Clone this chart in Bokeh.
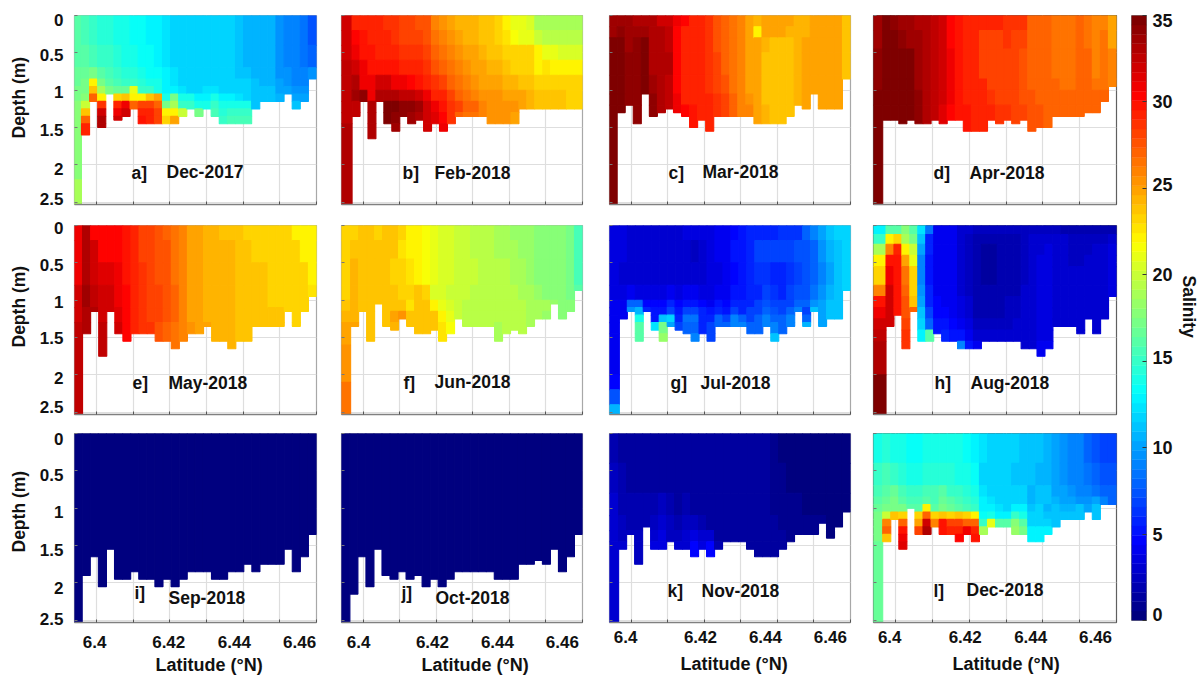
import numpy as np
from bokeh.embed import file_html
from bokeh.resources import INLINE
from bokeh.plotting import figure
from bokeh.layouts import row, column
from bokeh.models import (ColumnDataSource, FixedTicker, Label, LinearColorMapper,
                          Range1d, Title)
from bokeh.transform import transform

# ---------- data ----------
months = ["Dec-2017", "Feb-2018", "Mar-2018", "Apr-2018", "May-2018", "Jun-2018",
          "Jul-2018", "Aug-2018", "Sep-2018", "Oct-2018", "Nov-2018", "Dec-2018"]
letters = ["a]", "b]", "c]", "d]", "e]", "f]", "g]", "h]", "i]", "j]", "k]", "l]"]
lat_ticks = [6.40, 6.41, 6.42, 6.43, 6.44, 6.45, 6.46]
depth_ticks = [0, 0.5, 1, 1.5, 2, 2.5]
cbar_ticks = [0, 5, 10, 15, 20, 25, 30, 35]

first_edge = [6.3959, 6.3969, 6.3961, 6.3965, 6.3962, 6.3965, 6.3967, 6.3974, 6.3961, 6.3963, 6.3965, 6.3965]

bottom_a = [2.55,1.6,1.15,1.5,1.05,1.4,1.35,1.25,1.45,1.45,1.45,1.45,1.45,1.35,1.25,1.35,1.25,1.35,1.45,1.45,1.45,1.45,1.25,1.15,1.15,1.15,1.05,1.25,1.15,.85]
bottom_b = [2.55,1.35,1.15,1.65,1.15,1.45,1.55,1.35,1.45,1.4,1.55,1.45,1.55,1.45,1.35,1.35,1.35,1.35,1.45,1.45,1.45,1.45,1.25,1.25,1.25,1.25,1.25,1.25,1.25,1.25]
bottom_c = [2.55,1.3,1.2,1.45,1.05,1.35,1.3,1.25,1.3,1.35,1.5,1.4,1.55,1.35,1.35,1.35,1.35,1.35,1.45,1.45,1.45,1.45,1.35,1.2,1.25,1.05,1.25,1.25,1.25,.85]
bottom_d = [2.55,1.4,1.4,1.45,1.4,1.45,1.45,1.4,1.45,1.4,1.4,1.55,1.55,1.55,1.4,1.45,1.4,1.45,1.4,1.55,1.5,1.5,1.35,1.35,1.35,1.35,1.3,1.3,1.15,.95]
bottom_e = [2.55,1.45,1.15,1.75,1.15,1.45,1.55,1.45,1.45,1.45,1.55,1.55,1.65,1.55,1.45,1.45,1.35,1.55,1.55,1.65,1.55,1.55,1.35,1.35,1.35,1.35,1.15,1.35,1.15,.95]
bottom_f = [2.55,1.35,1.15,1.55,1.05,1.35,1.4,1.25,1.35,1.45,1.45,1.4,1.55,1.45,1.25,1.35,1.35,1.35,1.35,1.55,1.45,1.4,1.45,1.35,1.25,1.25,1.05,1.25,1.15,.87]
bottom_g = [2.55,1.25,1.15,1.55,1.15,1.4,1.55,1.35,1.4,1.45,1.55,1.45,1.55,1.35,1.35,1.35,1.35,1.45,1.45,1.35,1.55,1.45,1.35,1.15,1.35,1.15,1.35,1.25,1.25,.87]
bottom_h = [2.55,1.35,1.2,1.65,1.15,1.55,1.55,1.45,1.55,1.55,1.65,1.65,1.65,1.55,1.55,1.55,1.55,1.55,1.65,1.65,1.75,1.65,1.35,1.35,1.35,1.45,1.25,1.45,1.25,.95]
bottom_i = [2.55,1.9,1.65,2.05,1.55,1.95,1.95,1.85,1.95,1.95,2.05,1.95,2.05,1.95,1.85,1.85,1.85,1.95,1.95,1.85,1.85,1.75,1.85,1.75,1.75,1.75,1.55,1.85,1.65,1.35]
bottom_j = [2.55,2.15,1.65,2.05,1.55,1.9,1.95,1.85,1.95,1.9,2.05,1.95,2.05,1.95,1.85,1.85,1.85,1.85,1.85,1.95,1.95,1.95,1.75,1.75,1.7,1.75,1.55,1.85,1.65,1.35]
bottom_k = [2.55,1.55,1.35,1.75,1.25,1.55,1.55,1.45,1.55,1.55,1.65,1.55,1.65,1.55,1.45,1.45,1.45,1.55,1.65,1.65,1.65,1.55,1.45,1.35,1.35,1.35,1.2,1.4,1.25,1.05]
bottom_l = [2.55,1.45,1.15,1.55,1.0,1.35,1.35,1.25,1.35,1.35,1.45,1.35,1.45,1.35,1.25,1.25,1.25,1.35,1.35,1.45,1.45,1.35,1.25,1.15,1.15,1.15,1.05,1.15,.95,.95]

edges_a = [0,.4,.7,.85,.95,1.05,1.15,1.25,1.35,1.45,2.2,3]
sal_a = [
 [16,15.5,15,14.5,14.5,14,14,13.5,13.5,13,13,12.5,12,12,12,12,11.5,11.5,11.5,11.5,11,10.5,10.5,10.5,10.5,9.5,9,9,8.5,7.5],
 [16,16,15.5,15,15,14.5,14,14,13.5,13.5,13,12.5,12,12,12,12,11.5,11.5,11.5,11.5,11,10.5,10.5,10.5,10.5,9.5,9,9,8.5,8],
 [16.5,16.5,17,16,15.5,15,14.5,14.5,14,13.5,13.5,13,12.5,12,12,12,11.5,11.5,12,12,11,11,10.5,10.5,10.5,9.5,9.5,9,9,9.5],
 [16.5,17,22,17,16,15.5,15,15,14.5,14,14,13,12.5,12,12,12,12,12,12,12,11.5,11.5,11,10.5,10.5,10,9.5,9,9,9],
 [17,17,24,19,17,16.5,16.5,21,15,15,14,13,13,12.5,12,12,12.5,12.5,12,12,12,11.5,11,11,11,10,10,9.5,9.5,9],
 [17,17.5,27,22,17,23,24,22,22,24,25,14,17,14,14,13,13,14,13,13,12.5,12,11,11,11,10.5,10.5,10,10,9],
 [18,20,28,28.5,17,29,31,27,28,28,27,17,19,15,15,14,14,15,14,14,14,14,11,11,11,11,11,11,11,11],
 [18,24,28,32,17,31,32,29,29,29,28,22,22,20,15,17,14,15.5,14.5,15,15,15],
 [18,27,28,33,17,32,32,29,30,29,28,23,25,20,15,17,14,15.5,15,15.5,15.5,15.5],
 [17.5,29,28,33],
 [19],
]
edges_b = [0,.2,.4,.6,.8,1.0,1.15,1.3,1.45,3]
sal_b = [
 [32,29.5,29.5,29,29,28.5,28.5,28,28,27.5,27.5,26,25.5,25,24.5,24.5,24.5,24,24,23.5,22,21,21,20.5,19,19,19,19,19,19],
 [32,30.5,30,29.5,29.5,29,28.5,28,28,28,27.5,26.5,26,25.5,25,24.5,24.5,24,24,23.5,22.5,21.5,21,21,20,19.5,19.5,19.5,19.5,19.5],
 [32,31,30,30,29.5,29.5,29,28.5,28.5,28.5,28,27,26.5,26,25.5,25,25,24.5,24,24,23.5,23,23,23,22,21,21,20.5,20.5,20.5],
 [32.5,32,31,30,30,30,30,29.5,29,29,28.5,27.5,27,26.5,26,25.5,25,25,24.5,24.5,24,23.5,23,23,22,22.5,22,22,22,22],
 [32.5,33,31,31,32,32,31,31,30.5,30,29,28.5,28,27,26.5,26,25.5,25,25,25,24.5,24.5,24,24,23.5,23.5,23.5,23.5,23.5,23.5],
 [32.5,33.5,34,31,33,33,33,32.5,32.5,32,31,29.5,29,28,27,26.5,26,25.5,25.5,25.5,25,25,25,24.5,24,24,24,24,23.5,23.5],
 [32.5,32.5,33,33,33,34.5,34.5,34,34,33.5,32,31,30,28.5,28,27,27,26,25.5,25.5,25.5,25.5,25,24.5,24,24,24,24,23.5,23.5],
 [32.5,32.5,33,33,33,35,34,34,33.5,33,32,31.5,30.5,28.5,27,26.5,26.5,26,25.5,25.5,25.5,25],
 [33,33,33,33,33,33,33.5,33,33,33,32,31,31],
]
edges_c = [0,.15,.3,.5,.8,1.05,1.2,3]
sal_c = [
 [33.5,33.5,33.5,33,33,33,32,32,31,30.5,29.5,29,28.5,27.5,27,26.5,26,25,24.5,25,25,25,25,24.5,24.5,25,25,25,25,24],
 [33.5,34,33.5,33.5,33.5,33,33,32.5,30.5,29.5,29.5,29,28.5,27.5,27,26.5,26,25,22,25,25,25,24.5,24.5,24.5,25,25,25,25,24],
 [34.5,34.5,33.5,34,34.5,33,33,32.5,30.5,29.5,29.5,29,28.5,27.5,27,26.5,26,25,25,24.5,24,24,24,24.5,25,25,25,25,25,24],
 [34.5,34.5,34,34,34.5,33,33,33,30.5,29.5,29,29,28.5,28,27,26.5,26,25,25,24,24,24,24,24.5,25,25,25,25,25,24],
 [34.5,34.5,34,34,34.5,33.5,33,32.5,30.5,29.5,29,29,28.5,28,27.5,26.5,26,25,25,24,24,24,24,24.5,25,25,25,25,25,24],
 [34.5,34.5,34,34,34,34,33,32.5,31,29.5,29,29,29,28.5,28,27,26,25.5,25,24,24,24,24,24.5,25,25,25,25,25,24],
 [35,34.5,34,34,34,34,33,32.5,31,30.5,30,29.5,29,28.5,28,27,26,26,25,24.5,24,24,24,24.5,25,25,25,25,25,24],
]
edges_d = [0,.2,.45,.85,1.0,1.2,3]
sal_d = [
 [33.5,34.5,34,33.5,33.5,33,33,32.5,32,30.5,30,29.5,29.5,29,29,29,28.5,28.5,28.5,27,27,27,26.5,26.5,26.5,27,26.5,26,26,25],
 [33.5,34.5,34.5,34,33.5,33.5,33,32.5,32,30.5,30,29.5,29,28,28,28,28.5,28,28,27,27,27,26.5,26.5,26.5,27,26.5,26,26.5,25],
 [34,34.5,35,35,34.5,33.5,33,32.5,32,31,30,29.5,29,28,28,28,28,28,27.5,27,27,27,26.5,26.5,26.5,27,27,26,26.5,26],
 [34,34.5,35,35,34.5,33.5,33,32.5,32,31,30,29.5,29,29,28,28,28,28,27.5,27,27,27,27,26.5,26.5,27,27,26.5,26.5,26],
 [34.5,34.5,35,35,34.5,34,33,32.5,32,31,30,29.5,29,29,28.5,28,28,28,27.5,27.5,27,27,27,27,27,27,27,27,27],
 [34.5,34.5,34.5,34.5,34.5,34,33,32.5,31.5,30.5,30,30,29.5,29.5,29,28.5,28.5,28,28,27.5,27.5,27,27,27,27,27,27,27,27],
]
edges_e = [0,.2,.5,.8,1.1,1.3,3]
sal_e = [
 [31,33,30.5,30.5,30.5,30.5,30,29,28,28,27.5,27,26.5,26,25,25,24.5,24.5,24,24,24,23.5,23.5,23.5,23.5,23,23,22,22,22],
 [31,33,32,30.5,30.5,30.5,30,29,28,28,27.5,27.5,26.5,26,25,25,24.5,24.5,24.5,24.5,24,24,23.5,23.5,23.5,23,23,23,22,22],
 [31,33,32,31.5,31.5,31,30,29,28.5,28,27.5,27.5,26.5,26,25,25,24.5,24.5,24.5,24.5,24,24,24,24,23.5,23.5,23.5,23,23,22],
 [32,33.5,32.5,32,32,31,30.5,29,28.5,28,28,27.5,27,26,25,25,24.5,24.5,24.5,24.5,24,24,24,24,23.5,23.5,23.5,23,23,22.5],
 [32,33,33,32,32,31.5,30.5,29,28.5,28,28,27.5,27,26,25,25,24.5,24.5,24.5,24.5,24,24,24,24,24,24,23.5,23,23,23],
 [32.5,33,33,32.5,32,32,30.5,29,28.5,28.5,27.5,27,26.5,26,25.5,25,25,24.5,24.5,24.5,24,24,24,24,24,24,24,23.5,23,23],
]
edges_f = [0,.2,.45,.8,1.0,1.15,1.3,1.6,2.1,3]
sal_f = [
 [23,23.5,24,24,23.5,24,24,23,22,22,21.5,21,20.5,20.5,20,20,19.5,19.5,19.5,19,19,18.5,18.5,18.5,18,18,17.5,17.5,17,15.5],
 [23,24,24,24,24,24,24,22.5,22,22,21.5,21,20.5,20.5,20,20,19.5,19.5,19.5,19,19,19,18.5,18.5,18,18,18,17.5,17,15.5],
 [23,24.5,24,24,24,24,23.5,23,22.5,22,21.5,21,20.5,20.5,20,20,20,19.5,19.5,19.5,19.5,19,19,18.5,18,18,17.5,17.5,17,15.5],
 [23.5,24.5,24,24,24,24,24,23,23,24,23,20.5,20.5,20,20,20,19.5,19.5,19.5,19.5,19.5,19.5,19,19,18.5,18,18,17.5,17,16],
 [24,24.5,24,24,24,24,24,24,22.5,24,24,22,21,20.5,20,19.5,19.5,19.5,19.5,19.5,19.5,19.5,19.5,19,19,19,18.5,18,18,18],
 [24.5,24.5,24,24,24,24,25,25.5,24,24,24,24,22,21,20,19.5,19.5,19.5,19.5,19.5,19.5,19.5,19.5,19,19,18.5],
 [25,25,24,24,24,24,24.5,25.5,24,24,24,24,22.5,21.5,20,19.5,19.5,19.5,19.5,19,19.5,19.5,19.5,19],
 [25.5],
 [26.5],
]
edges_g = [0,.2,.5,.8,1.0,1.1,1.2,1.3,1.45,2.0,2.2,2.4,3]
sal_g = [
 [3.5,3.5,3,3,3,3,3,3,3,3.5,3.5,3.5,3.5,4,4,4.5,5,5.5,6,6,6,6.5,6.5,6.5,8,9,10,11,11.5,12],
 [3.5,3.5,3,3,3,3,3,3,3,3,2.5,3,3.5,4,4,5,5,5.5,7,7,7,7,7,7.5,7.5,8,9.5,10.5,11,12],
 [3.5,3,3,3,3,3,3,3,3,3,3,3,3.5,3.5,4,4.5,5,5.5,6.5,6.5,6,5.5,6.5,7,7.5,8,9,10,11,12],
 [3.5,3.5,4,3.5,3.5,3.5,3.5,4,3.5,4,4,3.5,3.5,4,4,5,5,6,6,7,6.5,6,7,7.5,7.5,8.5,9.5,10.5,11,11.5],
 [4,4,8,8,4.5,4.5,4.5,5.5,4.5,5,5,4.5,4,5,4.5,5.5,5.5,6,7,7.5,7,7,7,8,8,9.5,10,11,11,11],
 [4,4,9.5,10.5,6,5,5,7,5,7,7,6,5,6,5,7,6,7,7,8,7.5,7,8,9,7,11,10,11,11,11],
 [4,4,12,14,12,5,11,12,6,8.5,8.5,6,6,8,7,9,8,7,8,9,8,8,9,9,8,8,10,11,11,11],
 [4,4,15,16,12,12.5,17,10,7,8,8,6,7,8,8,9,9,8,8,9,9,8,9,9,10.5,10,10,10,10],
 [4,4,4,16,4,8,18.5,7,7,9,9,7,7,8,8,8,8,8,8,8,11],
 [4.5],
 [7.5],
 [10.5],
]
edges_h = [0,.12,.25,.4,.55,.8,.95,1.1,1.25,1.4,1.55,2.0,3]
sal_h = [
 [13,16,16,18,16,12.5,8.5,4,4,4,3,3,2.5,2.5,2.5,2.5,2.5,2.5,2.5,2.5,2.5,2.5,2.5,2,2,2,2,2,2,2],
 [15,22,23,19,17,11,6,4,4,4,3,2.5,2,2,2,2,2,2,2.5,3,3,3,3,3,2.5,2.5,2.5,2.5,2.5,3],
 [19,26,29,22,20,10,5.5,4,4,4,3,2.5,2,1.5,1.5,2,2,2,2.5,3,3,3.5,3,3,2.5,2.5,2.5,3,3,3.5],
 [22,30,30,25,21,9,5,4,4,4,3,2.5,2,1.5,1.5,2,2,2,2.5,3,3.5,3.5,3,3,2.5,2.5,3,3,3,3.5],
 [23.5,31,30,26.5,23,9,5,4,4,4,3,2.5,2,1.5,1.5,2,2,2,2.5,3,3.5,3.5,3,3,3,3,3,3,3,3.5],
 [26,32,30,27,23.5,9.5,5.5,4,4,4,3,2.5,2,2,2,2,2,2,3,3,3.5,3.5,3,3,3,3,3,3,3,3.5],
 [30,32,30,27.5,24,10,6,4.5,4,4,3.5,3,2,2,2,2,2.5,2.5,3,3,3.5,3.5,3,3,3,3,3,3,3,3],
 [31,32,30,27.5,27,11,7,4.5,4.5,4,3.5,3,2,2,2,2,2.5,2.5,3,3,3.5,3.5,3,3,3,3,3,3,3,3],
 [32,32,32,28,27,12,8,5,5,4.5,4,3.5,2.5,2.5,2.5,2.5,2.5,3,3,3,3.5,3.5,3,3,3,3,3,3,3],
 [32.5,32,32,28.5,27,13,16,5,6,5,5,4,3,3,3,3,3,3,3,3,3.5,3.5],
 [33,33,33,28.5,33,33,33,33,33,6,9,5,4,3,3,3,3,3,3,3,4,4],
 [34.5],
]
edges_i = [0,3]
sal_i = [[.3,.3,.3,.3,.3,.3,.3,.3,.3,.3,.3,.3,.3,.3,.3,.3,.3,.3,.3,.3,.3,.3,.3,.3,.3,.3,.3,.3,.3,.3]]
edges_j = [0,3]
sal_j = [[.3,.3,.3,.3,.3,.3,.3,.3,.3,.3,.3,.3,.3,.3,.3,.3,.3,.3,.3,.3,.3,.3,.3,.3,.3,.3,.3,.3,.3,.3]]
edges_k = [0,.4,.8,1.1,1.3,1.45,3]
sal_k = [
 [1.8,1.6,1.6,1.6,1.2,1.2,1.2,1.2,1.2,1.2,1.2,1.2,1.1,1.1,1.1,1.1,1.1,1.1,1.2,1.1,.9,.5,.5,.5,.5,.5,.5,.5,.4,.4],
 [2.5,1.8,1.6,1.6,1.4,1.2,1.2,1.4,1.2,1.2,1.2,1.2,1.2,1.2,1.1,1.1,1.1,1.1,1.2,1.1,1,.9,.5,.5,.5,.5,.5,.5,.4,.4],
 [2.8,2,1.8,1.8,1.8,1.8,2.2,1.8,1.6,2,1.6,1.6,1.4,1.2,1.2,1.2,1.1,1.1,1.2,1.1,1,1,.6,.6,.5,.5,.5,.5,.4,.4],
 [3,2.2,2,2,2,2.5,3,2.2,2,2.5,2.5,2,1.6,1.4,1.2,1.2,1.2,1.2,1.2,1.2,1.1,1,1,.8,.6,.6,.6,.5,.5,.5],
 [3,2.5,2.2,2.2,2,3,3.5,2.5,2.2,3,3.5,2.8,3,1.6,1.4,1.4,1.4,1.2,1.2,1.2,1.2,1.1,1],
 [3,3,2.5,2.5,2,3.5,3.8,2.5,2.8,3,4.5,3.5,4.5,1.8,1.5,1.5,1.5,1.5,1.4,1.4,1.3,1.2],
]
edges_l = [0,.4,.7,.85,.95,1.05,1.15,1.25,1.35,1.45,3]
sal_l = [
 [14,14.5,14,14,13.5,13.5,14,14,14,14,14,13.5,13,12.5,12,12,11.5,11.5,11,11,11,10.5,10,9.5,9,9,8,7.5,7,7],
 [15,15.5,15,14.5,14,14,14.5,14.5,14.5,14.5,14,14,13.5,12,11.5,11.5,11.5,11,11,11,10.5,10.5,10,9.5,9,9,8.5,8,7.5,7.5],
 [15.5,16,16.5,15.5,15,15,15.5,15.5,16,15,15,14.5,14,12.5,12,11.5,11.5,11.5,11.5,10.5,11,11,10,10,9.5,9,9,8.5,8,8],
 [16,16.5,17,16,15.5,15.5,16,15.5,16.5,16,15.5,15,14.5,13,12.5,12,12,12,12,10.5,11,11,10.5,10,10,9.5,9.5,10,9,8],
 [16.5,17,17,17,16,16,22,16,17,16.5,16,15.5,15,13,13,12.5,12,13,13,11,11.5,10.5,11,10.5,10.5,11,10,11,9.5,9],
 [17,20,24,23,17,23,27,23,24,23,24,23,22,13.5,14,13,13,15,14,12,12,11,11,11,11,11],
 [17,26,25,27,17,25,32,26,30,28,28,27,27,15,21,16,16,18,16,12,12,12,11],
 [17,27,25,30,17,28,33,26,30,29,29,31,29,19,20,15,15,18.5,17,13,13,13],
 [17,24,25,31,17,25,25,25,25,25,30.5,25,30,19,20,15,15,18.5,17,13,13,13],
 [16.5,22,25,31.5],
]
bottoms = [bottom_a,bottom_b,bottom_c,bottom_d,bottom_e,bottom_f,bottom_g,bottom_h,bottom_i,bottom_j,bottom_k,bottom_l]
edges_all = [edges_a,edges_b,edges_c,edges_d,edges_e,edges_f,edges_g,edges_h,edges_i,edges_j,edges_k,edges_l]
sal_all = [sal_a,sal_b,sal_c,sal_d,sal_e,sal_f,sal_g,sal_h,sal_i,sal_j,sal_k,sal_l]

# ---------- styling / layout ----------
FONT = "Liberation Sans"
INK = "#111111"
def jet(n=64):
    out = []
    for i in range(n):
        t = 4 * i / (n - 1)
        r = np.clip(min(t - 1.5, 4.5 - t), 0, 1)
        g = np.clip(min(t - 0.5, 3.5 - t), 0, 1)
        b = np.clip(min(t + 0.5, 2.5 - t), 0, 1)
        out.append("#%02x%02x%02x" % (int(r * 255), int(g * 255), int(b * 255)))
    return out
mapper = LinearColorMapper(palette=jet(), low=0, high=35)

LAT0, LAT1 = 6.394, 6.46
DMAX = 2.53
# frame pixel boxes on the page
col_left = [74, 341, 609, 873]
col_w = [242, 241, 241, 243]
col_end = [328, 595, 861, 1121]
col_start = [0, 328, 595, 861]
row_top = [15, 225, 433]
FRAME_H = 189
row_border_top = [15, 16, 14]
row_border_bottom = [5, 5, 50]
outline = ["#a8a8a8", "#a8a8a8", "#a8a8a8", "#606060"]
y_label_pos = [[.06,.53,1.03,1.53,2.05,2.46], [.04,.53,1.03,1.5,2.04,2.43], [.08,.56,1.05,1.56,2.07,2.48]]
x_label_pos = [[6.3995,6.4197,6.4376,6.4554], [6.3987,6.4189,6.4367,6.4545], [6.3984,6.4189,6.4367,6.4545], [6.3984,6.4189,6.4367,6.4543]]
x_labels = ["6.4", "6.42", "6.44", "6.46"]
y_labels = ["0", "0.5", "1", "1.5", "2", "2.5"]
# annotation anchors, page pixels: letter left, date left, letter y, date y
annot = [(131,166,172,171),(402,434,172,172),(668,702,172,171),(933,969,172,172),
         (132,168,382,382),(403,434,382,381),(670,700,382,382),(934,970,382,382),
         (134,168,592,597),(401,435,592,597),(667,701,590,590),(933,966,590,589)]
xtitle_offset = [81, 80, 71, 79]
ytitle_offset = [66, 67, 70]

def panel(k):
    r, c = k // 4, k % 4
    bl = col_left[c] - col_start[c]
    br = col_end[c] - col_left[c] - col_w[c]
    p = figure(frame_width=col_w[c], frame_height=FRAME_H, toolbar_location=None, output_backend="svg",
               x_range=Range1d(LAT0, LAT1), y_range=Range1d(DMAX, 0),
               min_border_left=bl, min_border_right=br,
               min_border_top=row_border_top[r], min_border_bottom=row_border_bottom[r],
               x_axis_location="below", y_axis_location="left",
               background_fill_color="white", border_fill_color="white")
    p.outline_line_color = outline[c]
    p.outline_line_width = 1.2
    lat_e = np.concatenate(([LAT0], np.linspace(first_edge[k], LAT1, 30)))
    xl, xr, yt, yb, sv = [], [], [], [], []
    eds, rows, bot = edges_all[k], sal_all[k], bottoms[k]
    for j in range(30):
        cur = None
        for i, rw in enumerate(rows):
            if j < len(rw):
                cur = rw[j]
            if eds[i] >= bot[j]:
                break
            xl.append(lat_e[j]); xr.append(lat_e[j + 1])
            yt.append(eds[i]); yb.append(min(eds[i + 1], bot[j]))
            sv.append(cur)
    src = ColumnDataSource(dict(l=xl, r=xr, t=yt, b=yb, s=sv))
    p.quad(left="l", right="r", top="t", bottom="b", source=src,
           fill_color=transform("s", mapper), line_color=transform("s", mapper), line_width=1.1)
    # grids
    p.xgrid.ticker = FixedTicker(ticks=lat_ticks)
    p.ygrid.ticker = FixedTicker(ticks=depth_ticks[1:])
    for g in (p.xgrid[0], p.ygrid[0]):
        g.grid_line_color = "#dedede"
        g.grid_line_width = 1.2
    sx = (LAT1 - LAT0) / col_w[c]
    sy = DMAX / FRAME_H
    # x axis
    ax = p.xaxis[0]
    ax.ticker = FixedTicker(ticks=x_label_pos[c] if r == 2 else [], minor_ticks=lat_ticks)
    ax.major_tick_line_color = None
    ax.major_tick_in = 0; ax.major_tick_out = 0
    ax.minor_tick_in = 3; ax.minor_tick_out = 0
    ax.minor_tick_line_color = "#555555"
    ax.axis_line_color = "#808080"; ax.axis_line_width = 1.5
    if r == 2:
        ax.major_label_overrides = dict(zip(x_label_pos[c], x_labels))
        ax.major_label_standoff = 13 if c < 2 else 8
        ax.major_label_text_font = FONT; ax.major_label_text_font_style = "bold"
        ax.major_label_text_font_size = "17px"; ax.major_label_text_color = INK
        p.add_layout(Title(text="Latitude (°N)", align="left", offset=xtitle_offset[c], vertical_align="middle",
                           standoff=7 if c < 2 else 15, text_font=FONT, text_font_style="bold",
                           text_font_size="18px", text_color=INK), "below")
    else:
        ax.major_label_text_font_size = "0px"
    # y axis
    ay = p.yaxis[0]
    ay.ticker = FixedTicker(ticks=y_label_pos[r] if c == 0 else [], minor_ticks=depth_ticks)
    ay.major_tick_line_color = None
    ay.major_tick_in = 0; ay.major_tick_out = 0
    ay.minor_tick_in = 3; ay.minor_tick_out = 0
    ay.minor_tick_line_color = "#777777"
    ay.axis_line_color = None
    if c == 0:
        ay.major_label_overrides = dict(zip(y_label_pos[r], y_labels))
        ay.major_label_standoff = 11
        ay.major_label_text_font = FONT; ay.major_label_text_font_style = "bold"
        ay.major_label_text_font_size = "17px"; ay.major_label_text_color = INK
        p.add_layout(Title(text="Depth (m)", align="left", offset=ytitle_offset[r], vertical_align="middle",
                           standoff=14, text_font=FONT, text_font_style="bold",
                           text_font_size="17.5px", text_color=INK), "left")
    else:
        ay.major_label_text_font_size = "0px"
    # annotations
    lx, dx, ly, dy = annot[k]
    for txt, px, py in ((letters[k], lx, ly), (months[k], dx, dy)):
        p.add_layout(Label(x=LAT0 + (px - col_left[c]) * sx, y=(py - row_top[r]) * sy, text=txt,
                           text_font=FONT, text_font_style="bold", text_font_size="17.5px",
                           text_color=INK, text_align="left", text_baseline="middle"))
    return p

panels = [panel(k) for k in range(12)]

# ---------- colour bar ----------
cb = figure(frame_width=15, frame_height=605, toolbar_location=None, output_backend="svg",
            x_range=Range1d(0, 1), y_range=Range1d(0, 35),
            min_border_left=10, min_border_right=52, min_border_top=15, min_border_bottom=47,
            y_axis_location="right", x_axis_location=None)
lev = np.linspace(0, 35, 65)
cb.quad(left=0, right=1, bottom=lev[:-1], top=lev[1:], fill_color=jet(), line_color=jet(), line_width=0.4)
cb.grid.visible = False
cb.outline_line_color = "#808080"
cb_label_pos = [.35, 5, 10, 15.2, 20, 25.2, 30, 34.7]
a = cb.yaxis[0]
a.ticker = FixedTicker(ticks=cb_label_pos, minor_ticks=cbar_ticks)
a.major_label_overrides = dict(zip(cb_label_pos, [str(t) for t in cbar_ticks]))
a.major_tick_line_color = None
a.major_tick_in = 0; a.major_tick_out = 0
a.minor_tick_in = 4; a.minor_tick_out = 0; a.minor_tick_line_color = "#333333"
a.axis_line_color = None
a.major_label_standoff = 6
a.major_label_text_font = FONT; a.major_label_text_font_style = "bold"
a.major_label_text_font_size = "18px"; a.major_label_text_color = INK
cb.add_layout(Title(text="Salinity", align="left", offset=260, vertical_align="middle", standoff=5,
                    text_font=FONT, text_font_style="bold", text_font_size="17.5px", text_color=INK), "right")

grid = column(row(panels[0:4], spacing=0), row(panels[4:8], spacing=0), row(panels[8:12], spacing=0), spacing=0)
page = row(grid, cb, spacing=0)
open("out.html", "w").write(file_html(page, INLINE))
